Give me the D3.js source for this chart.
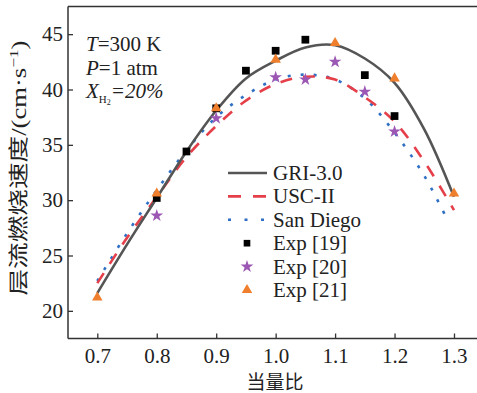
<!DOCTYPE html>
<html>
<head>
<meta charset="utf-8">
<script src="https://cdn.jsdelivr.net/npm/d3@7"></script>
<style>
  body { margin: 0; background: #fff; }
  svg { display: block; }
  text { font-family: "Liberation Serif", "Times New Roman", serif; fill: #222; }
</style>
</head>
<body>
<svg id="chart" width="477" height="393"></svg>
<script>
// model curves
const griX = [0.70, 0.75, 0.80, 0.85, 0.90, 0.95, 1.00, 1.05, 1.10, 1.15, 1.20, 1.25, 1.30];
const griY = [21.6, 26.0, 30.2, 34.4, 38.1, 41.0, 42.6, 43.8, 44.0, 42.8, 40.6, 36.4, 30.3];
const uscX = [0.70, 0.75, 0.80, 0.85, 0.90, 0.95, 1.00, 1.05, 1.10, 1.15, 1.20, 1.25, 1.30];
const uscY = [22.5, 26.6, 30.3, 33.9, 36.7, 39.0, 40.5, 41.15, 40.9, 39.3, 37.1, 33.5, 29.1];
const sdX = [0.70, 0.75, 0.80, 0.85, 0.90, 0.95, 1.00, 1.05, 1.10, 1.15, 1.20, 1.25, 1.29];
const sdY = [22.7, 27.0, 30.9, 34.5, 37.5, 39.5, 40.9, 41.35, 40.9, 39.2, 36.1, 32.2, 28.1];

// experiments
const exp19X = [0.80, 0.85, 0.90, 0.95, 1.00, 1.05, 1.15, 1.20];
const exp19Y = [30.2, 34.4, 38.3, 41.7, 43.5, 44.5, 41.3, 37.6];
const exp20X = [0.80, 0.90, 1.00, 1.05, 1.10, 1.15, 1.20];
const exp20Y = [28.6, 37.4, 41.1, 40.9, 42.5, 39.8, 36.2];
const exp21X = [0.70, 0.80, 0.90, 1.00, 1.10, 1.20, 1.30];
const exp21Y = [21.2, 30.6, 38.3, 42.7, 44.2, 41.0, 30.6];

const xTicks = [0.7, 0.8, 0.9, 1.0, 1.1, 1.2, 1.3];
const yTicks = [20, 25, 30, 35, 40, 45];

const svg = d3.select("#chart");
const pLeft = 68, pRight = 477, pTop = 6.5, pBottom = 338.5;

const x = d3.scaleLinear().domain([0.6507, 1.3387]).range([pLeft, pRight]);
const y = d3.scaleLinear().domain([17.5, 47.5]).range([pBottom, pTop]);

const axisColor = "#333";

// frame: left, bottom, top
svg.append("line").attr("x1", pLeft).attr("x2", pRight).attr("y1", pTop).attr("y2", pTop)
    .attr("stroke", axisColor).attr("stroke-width", 1.5);

const xAxis = svg.append("g")
    .attr("transform", "translate(0," + pBottom + ")")
    .call(d3.axisBottom(x).tickValues(xTicks).tickSizeInner(-5).tickSizeOuter(0).tickPadding(10).tickFormat(d3.format(".1f")));
const yAxis = svg.append("g")
    .attr("transform", "translate(" + pLeft + ",0)")
    .call(d3.axisLeft(y).tickValues(yTicks).tickSizeInner(-5).tickSizeOuter(0).tickPadding(5));

[xAxis, yAxis].forEach(function(a) {
    a.attr("font-family", null);
    a.select(".domain").attr("stroke", axisColor).attr("stroke-width", 1.5);
    a.selectAll(".tick line").attr("stroke", axisColor).attr("stroke-width", 1.3);
    a.selectAll(".tick text").style("font-family", "'Liberation Serif', serif")
        .style("font-size", "21px").attr("fill", "#222");
});
yAxis.select(".domain").attr("d", "M0," + pTop + "V" + pBottom);
xAxis.select(".domain").attr("d", "M" + pLeft + ",0H" + pRight);

// curves
const line = d3.line().x(d => x(d[0])).y(d => y(d[1])).curve(d3.curveCatmullRom.alpha(0.5));

svg.append("path").datum(d3.zip(sdX, sdY))
    .attr("fill", "none").attr("stroke", "#2f6fc4").attr("stroke-width", 2.6)
    .attr("stroke-dasharray", "3,10").attr("d", line);
svg.append("path").datum(d3.zip(uscX, uscY))
    .attr("fill", "none").attr("stroke", "#e5404a").attr("stroke-width", 2.6)
    .attr("stroke-dasharray", "12,11").attr("d", line);
svg.append("path").datum(d3.zip(griX, griY))
    .attr("fill", "none").attr("stroke", "#555").attr("stroke-width", 2.6)
    .attr("d", line);

// markers
const sq = d3.symbol().type(d3.symbolSquare).size(60);
const star = d3.symbol().type(d3.symbolStar).size(50);
const tri = d3.symbol().type(d3.symbolTriangle).size(48);

svg.append("g").selectAll("path").data(d3.zip(exp19X, exp19Y)).join("path")
    .attr("transform", d => "translate(" + x(d[0]) + "," + y(d[1]) + ")")
    .attr("d", sq).attr("fill", "#000");
svg.append("g").selectAll("path").data(d3.zip(exp20X, exp20Y)).join("path")
    .attr("transform", d => "translate(" + x(d[0]) + "," + y(d[1]) + ")")
    .attr("d", star).attr("fill", "#9b57b3");
svg.append("g").selectAll("path").data(d3.zip(exp21X, exp21Y)).join("path")
    .attr("transform", d => "translate(" + x(d[0]) + "," + y(d[1]) + ")")
    .attr("d", tri).attr("fill", "#ef7f2c");

// legend
const lgX = 228, lgY = 173, lgStep = 23.4;
const legend = svg.append("g");
legend.append("line").attr("x1", lgX).attr("x2", lgX + 39).attr("y1", lgY).attr("y2", lgY)
    .attr("stroke", "#555").attr("stroke-width", 2.6);
legend.append("line").attr("x1", lgX).attr("x2", lgX + 39).attr("y1", lgY + lgStep).attr("y2", lgY + lgStep)
    .attr("stroke", "#e5404a").attr("stroke-width", 2.6).attr("stroke-dasharray", "13,12");
legend.append("line").attr("x1", lgX).attr("x2", lgX + 39).attr("y1", lgY + 2 * lgStep).attr("y2", lgY + 2 * lgStep)
    .attr("stroke", "#2f6fc4").attr("stroke-width", 2.6).attr("stroke-dasharray", "3,13.5");
legend.append("path").attr("transform", "translate(" + (lgX + 19) + "," + (lgY + 3 * lgStep) + ")")
    .attr("d", d3.symbol().type(d3.symbolSquare).size(44)).attr("fill", "#000");
legend.append("path").attr("transform", "translate(" + (lgX + 19) + "," + (lgY + 4 * lgStep) + ")")
    .attr("d", star).attr("fill", "#9b57b3");
legend.append("path").attr("transform", "translate(" + (lgX + 19) + "," + (lgY + 5 * lgStep) + ")")
    .attr("d", tri).attr("fill", "#ef7f2c");
const names = ["GRI-3.0", "USC-II", "San Diego", "Exp [19]", "Exp [20]", "Exp [21]"];
names.forEach(function(n, i) {
    legend.append("text").attr("x", lgX + 45).attr("y", lgY + i * lgStep + 7)
        .style("font-size", "21px").text(n);
});

// conditions
const cond = svg.append("g").style("font-size", "21px");
const t1 = cond.append("text").attr("x", 86).attr("y", 51);
t1.append("tspan").style("font-style", "italic").text("T");
t1.append("tspan").text("=300 K");
const t2 = cond.append("text").attr("x", 86).attr("y", 74.5);
t2.append("tspan").style("font-style", "italic").text("P");
t2.append("tspan").text("=1 atm");
const t3 = cond.append("text").attr("x", 86).attr("y", 97.5);
t3.append("tspan").style("font-style", "italic").text("X");
t3.append("tspan").attr("dy", 5).style("font-size", "11px").text("H");
t3.append("tspan").attr("dy", 2).style("font-size", "8px").text("2");
t3.append("tspan").attr("dy", -7).style("font-style", "italic").text("=20%");

// axis titles
svg.append("text").attr("x", 275).attr("y", 389).attr("text-anchor", "middle")
    .style("font-family", "'Noto Sans CJK SC', sans-serif").style("font-size", "19px").text("当量比");

const yl = svg.append("text").attr("transform", "translate(26,168) rotate(-90)")
    .attr("text-anchor", "middle").style("font-size", "20px")
    .attr("textLength", 255).attr("lengthAdjust", "spacingAndGlyphs");
yl.append("tspan").style("font-family", "'Noto Sans CJK SC', sans-serif").text("层流燃烧速度");
yl.append("tspan").text("/(cm·s");
yl.append("tspan").attr("dy", -8).style("font-size", "13px").text("−1");
yl.append("tspan").attr("dy", 8).text(")");
</script>
</body>
</html>
